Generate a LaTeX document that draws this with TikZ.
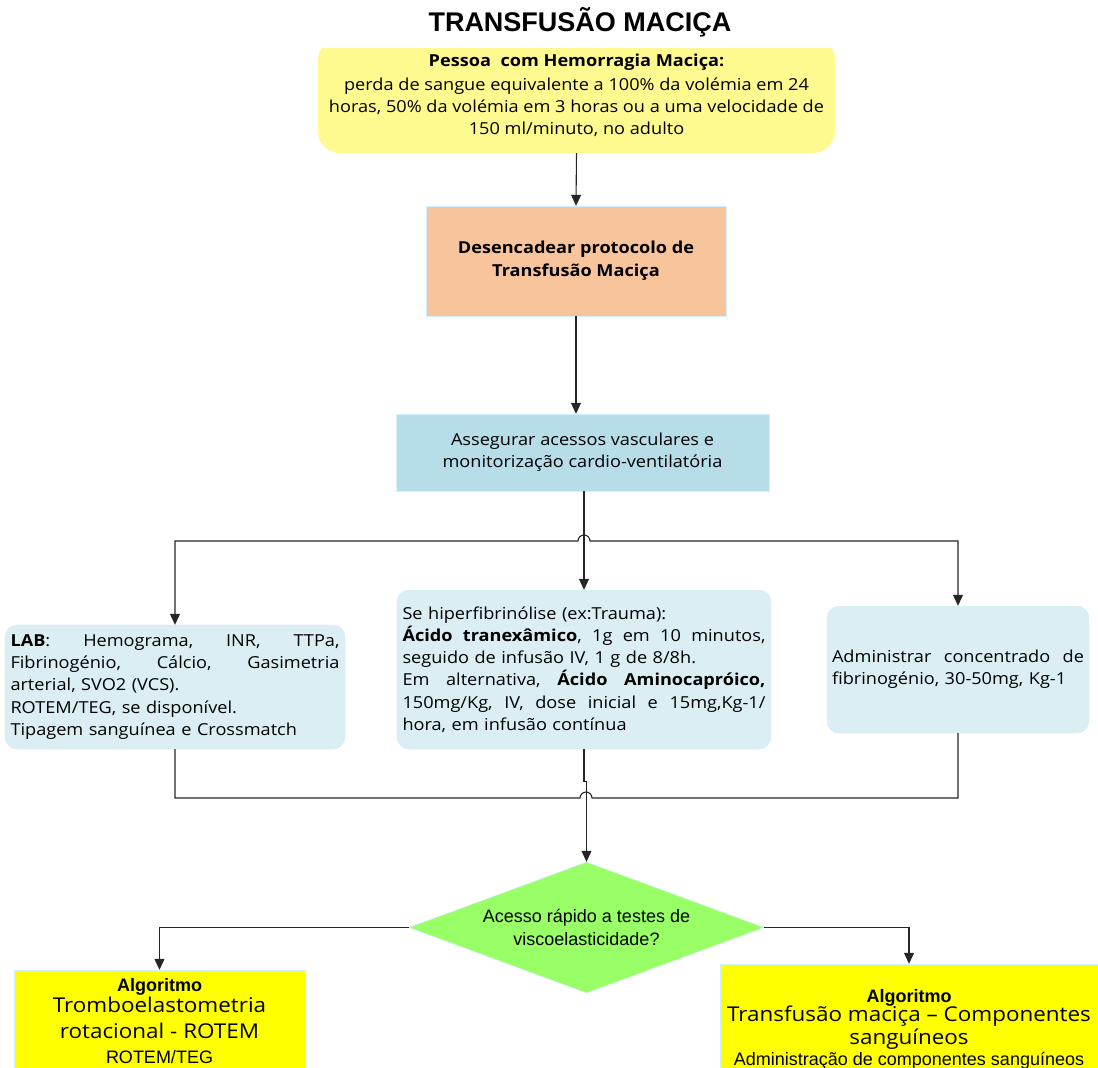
\documentclass[tikz,border=0pt]{standalone}
\usepackage{fontspec}
\setmainfont{Open Sans}[FakeStretch=1.1]
\newfontfamily\arialfont{Liberation Sans}
\usetikzlibrary{shapes.geometric,arrows.meta}
\definecolor{hemYellow}{HTML}{FFFA8F}
\definecolor{protOrange}{HTML}{F8C49C}
\definecolor{accBlue}{HTML}{B7DDE8}
\definecolor{paleBlue}{HTML}{DAEEF3}
\definecolor{decGreen}{HTML}{99FF66}
\definecolor{algYellow}{HTML}{FFFF00}
\colorlet{edgeCyan}{cyan!18!white}
\colorlet{lineGray}{black!85}
% justified line: words spread with \hfill
\newcommand{\jline}[2]{\leavevmode\hbox to #1{#2}}

\begin{document}
\begin{tikzpicture}[x=1pt, y=-1pt,
    every node/.style={font=\fontsize{16.5}{22.3}\selectfont},
    infobox/.style={draw=edgeCyan, fill=paleBlue, rounded corners=12pt, align=left, inner xsep=5.5pt},
    algbox/.style={draw=edgeCyan, fill=algYellow, align=center, inner sep=0pt, font=\fontsize{20.4}{23}\selectfont},
    link/.style={lineGray, line width=1.1pt},
    flow/.style={link, -{Triangle[width=10pt,length=11pt]}}]
  \useasboundingbox (0,0) rectangle (1098,1068);
  \node[font=\arialfont\bfseries\fontsize{27}{30}\selectfont] (ttl) at (580,22) {TRANSFUSÃO MACIÇA};
  \begin{scope}
    \clip (300,48) rectangle (860,160);
    \node[fill=hemYellow, rounded corners=22pt, minimum width=517pt, minimum height=115pt, align=center] (hem) at (576.5,95.5)
      {\textbf{Pessoa\ \ com Hemorragia Maciça:}\\[1.5pt]perda de sangue equivalente a 100\% da volémia em 24\\horas, 50\% da volémia em 3 horas ou a uma velocidade de\\150 ml/minuto, no adulto};
  \end{scope}
  \node[draw=edgeCyan, fill=protOrange, minimum width=300pt, minimum height=110pt, align=center, font=\fontsize{16.5}{23}\selectfont\bfseries] (prot) at (576,261)
    {Desencadear protocolo de\\Transfusão Maciça};
  \node[draw=edgeCyan, fill=accBlue, minimum width=373pt, minimum height=77pt, align=center] (acc) at (582.5,452.5)
    {Assegurar acessos vasculares e\\monitorização cardio-ventilatória};
  \node[infobox, text width=329pt, minimum height=124pt] (lab) at (175,687)
    {\jline{329pt}{\textbf{LAB}:\hfill Hemograma,\hfill INR,\hfill TTPa,}\\\jline{329pt}{Fibrinogénio,\hfill Cálcio,\hfill Gasimetria}\\arterial, SVO2 (VCS).\\ROTEM/TEG, se disponível.\\Tipagem sanguínea e Crossmatch};
  \node[infobox, text width=363pt, minimum height=159pt] (mid) at (584,669.5)
    {Se hiperfibrinólise (ex:Trauma):\\\jline{363pt}{\textbf{Ácido\hfill tranexâmico},\hfill 1g\hfill em\hfill 10\hfill minutos,}\\seguido de infusão IV, 1 g de 8/8h.\\\jline{363pt}{Em\hfill alternativa,\hfill \textbf{Ácido\hfill Aminocapróico,}}\\\jline{363pt}{150mg/Kg,\hfill IV,\hfill dose\hfill inicial\hfill e\hfill 15mg,Kg-1/}\\hora, em infusão contínua};
  \node[infobox, text width=252pt, minimum height=127pt, inner xsep=5pt] (fib) at (958,669.5)
    {\jline{252pt}{Administrar\hfill concentrado\hfill de}\\fibrinogénio, 30-50mg, Kg-1};
  \node[diamond, aspect=2.7, draw=edgeCyan, fill=decGreen, minimum width=355pt, minimum height=131pt, inner sep=0pt, align=center, font=\arialfont\fontsize{18}{23}\selectfont] (dec) at (586.5,927.5)
    {Acesso rápido a testes de\\viscoelasticidade?};
  \node[algbox, minimum width=291pt, minimum height=102pt] (rot) at (159.5,1021)
    {{\arialfont\bfseries\fontsize{18}{20}\selectfont Algoritmo}\\[-2pt]Tromboelastometria\\[3pt]rotacional - ROTEM\\[2pt]{\arialfont\fontsize{18}{20}\selectfont ROTEM/TEG}};
  \node[algbox, minimum width=378pt, minimum height=130pt] (tmc) at (909,1029)
    {{\arialfont\bfseries\fontsize{18}{20}\selectfont Algoritmo}\\[-4pt]Transfusão maciça – Componentes\\sanguíneos\\[-2pt]{\arialfont\fontsize{18}{20}\selectfont Administração de componentes sanguíneos}};
  % connectors
  \coordinate (hopA) at (578,541);
  \coordinate (hopB) at (590,541);
  \coordinate (hopC) at (580,798);
  \coordinate (hopD) at (592,798);
  \draw[flow] (hem.south) -- (prot.north);
  \draw[flow] (prot.south) -- (prot.south |- acc.north);
  \draw[flow] (mid.north |- acc.south) -- (mid.north);
  \draw[flow, {Triangle[width=10pt,length=11pt]}-{Triangle[width=10pt,length=11pt]}] (lab.north) |- (hopA) arc[start angle=180, end angle=0, radius=6pt] -- (hopB) -| (fib.north);
  \draw[link] (lab.south) |- (hopC) arc[start angle=180, end angle=0, radius=6pt] -- (hopD) -| (fib.south);
  \draw[flow] (mid.south) -- ++(0,32) -| (dec.north);
  \draw[flow] (dec.west) -| (rot.north);
  \draw[flow] (dec.east) -| (tmc.north);
\end{tikzpicture}
\end{document}
